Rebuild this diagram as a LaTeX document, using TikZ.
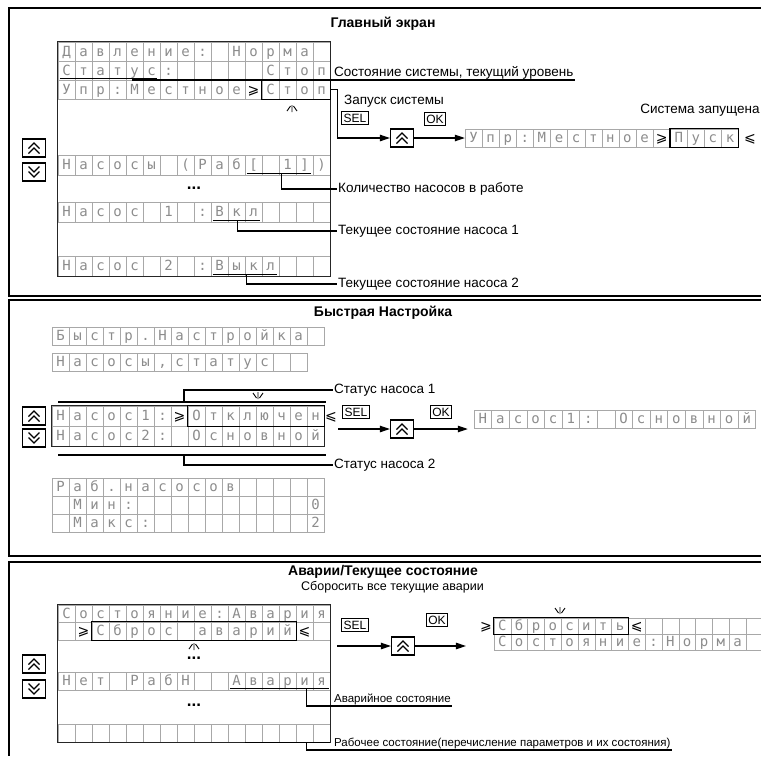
\documentclass[tikz,border=0pt]{standalone}
\usepackage{fontspec}
\setmainfont{Liberation Sans}
\newfontfamily\lcdfont{DejaVu Sans Mono}
\newfontfamily\symfont{DejaVu Sans}
\usepackage{tikz}
\usetikzlibrary{arrows.meta,positioning,fit,calc}
\definecolor{LcdGrid}{HTML}{A8A8A8}
\definecolor{LcdInk}{HTML}{8C8C8C}
\newcommand\lcdge{{\symfont\color{black}⩾}}
\newcommand\lcdle{{\symfont\color{black}⩽}}
\newcommand\lcdrow[6]{%
  \foreach \ch [count=\i] in {#6}{%
    \node[cell, minimum width=#4pt, minimum height=#5pt] (#1-\i) at ({#2+(\i-0.5)*#4},{#3+0.5*#5}) {\ch};}}
\newcommand\upkey[3]{%
  \node[key] (#1) at (#2,#3) {};
  \draw[chev] ([shift={(-5.5,0.5)}]#1.center) -- ([shift={(0,-5)}]#1.center) -- ([shift={(5.5,0.5)}]#1.center)
    ([shift={(-5.5,5.5)}]#1.center) -- ([shift={(0,0)}]#1.center) -- ([shift={(5.5,5.5)}]#1.center);}
\newcommand\downkey[3]{%
  \node[key] (#1) at (#2,#3) {};
  \draw[chev] ([shift={(-5.5,-0.5)}]#1.center) -- ([shift={(0,5)}]#1.center) -- ([shift={(5.5,-0.5)}]#1.center)
    ([shift={(-5.5,-5.5)}]#1.center) -- ([shift={(0,0)}]#1.center) -- ([shift={(5.5,-5.5)}]#1.center);}
\newcommand\blinkup[2]{\draw[blink] (#1-5,#2+6) -- (#1-1.5,#2+1) (#1,#2+7) -- (#1,#2) (#1+5,#2+6) -- (#1+1.5,#2+1);}
\newcommand\blinkdown[2]{\draw[blink] (#1-5,#2-6) -- (#1-1.5,#2-1) (#1,#2-7) -- (#1,#2) (#1+5,#2-6) -- (#1+1.5,#2-1);}

\begin{document}
\begin{tikzpicture}[x=1pt, y=-1pt, font=\fontsize{13.5}{15}\selectfont,
  cell/.style={draw=LcdGrid, line width=0.4pt, inner sep=0pt, text=LcdInk,
               font=\lcdfont\fontsize{14}{14}\selectfont, text height=10pt, text depth=1pt},
  lcdedge/.style={draw=black!85, line width=0.8pt},
  hibox/.style={draw, line width=1.2pt, inner sep=0pt},
  key/.style={draw, line width=1.3pt, minimum width=23pt, minimum height=18pt, inner sep=0pt},
  btn/.style={draw, line width=1.1pt, inner sep=2pt, font=\fontsize{12}{12}\selectfont},
  chev/.style={line width=1.3pt},
  lbl/.style={inner sep=1pt},
  small/.style={font=\fontsize{11.5}{13}\selectfont},
  ttl/.style={font=\bfseries\fontsize{14}{16}\selectfont},
  ar/.style={-{Triangle[length=10pt,width=6.5pt]}, line width=1.1pt},
  lead/.style={line width=1.1pt},
  uline/.style={line width=0.9pt},
  blink/.style={line width=0.9pt},
  dots/.style={font=\bfseries\fontsize{17}{17}\selectfont, inner sep=0pt},
  frame/.style={line width=1.6pt}]
\useasboundingbox (0,0) rectangle (761,756);

\draw[frame] (761,8) -| (9,296) -- (761,296);
\node[ttl] (t1) at (383,24) {Главный экран};
\lcdrow{p1a}{58}{42}{17}{19}{Д,а,в,л,е,н,и,е,:,{},Н,о,р,м,а,{}}
\lcdrow{p1b}{58}{61}{17}{19}{С,т,а,т,у,с,:,{},{},{},{},{},С,т,о,п}
\lcdrow{p1c}{58}{80}{17}{19}{У,п,р,:,М,е,с,т,н,о,е,{\lcdge},С,т,о,п}
\lcdrow{p1d}{58}{155}{17}{20}{Н,а,с,о,с,ы,{},{(},Р,а,б,{[},{},1,{]},{)}}
\lcdrow{p1e}{58}{202}{17}{20}{Н,а,с,о,с,{},1,{},:,В,к,л,{},{},{},{}}
\lcdrow{p1f}{58}{256}{17}{20}{Н,а,с,о,с,{},2,{},:,В,ы,к,л,{},{},{}}
\draw[lcdedge] (p1a-1.north west) rectangle (p1f-16.south east);
\node[hibox, fit=(p1c-13)(p1c-16)] (stop) {};
\blinkup{292}{105}
\draw[uline] ([shift={(2,-2)}]p1b-1.south west) -- ([shift={(-3,-2)}]p1b-6.south east);
\coordinate (stU) at ([shift={(7,-2)}]p1b-5.south west);
\node[lbl, anchor=south west] (stl) at (333,80) {Состояние системы, текущий уровень};
\draw[lead] (stU) |- (stl.south east);
\node[lbl, anchor=west] (zap) at (343,101) {Запуск системы};
\node[btn] (sel1) at (355,118) {SEL};
\upkey{k1}{402}{138}
\node[btn] (ok1) at (435,119) {OK};
\draw[ar] (stop.east) -- ++(7,0) |- (k1.west);
\lcdrow{p1g}{465}{129}{17.1}{18}{У,п,р,:,М,е,с,т,н,о,е,{\lcdge},П,у,с,к}
\node[hibox, fit=(p1g-13)(p1g-16)] (pusk) {};
\node[cell, draw=none] (p1lt) at (750,138) {\lcdle};
\draw[ar] (k1.east) -- (p1g-1.west);
\node[lbl] (run) at (700,110) {Система запущена};
\upkey{k1u}{34}{148}
\downkey{k1d}{34}{172}
\draw[uline] ([shift={(2,-2)}]p1d-12.south west) -- ([shift={(-2,-2)}]p1d-15.south east);
\coordinate (cnU) at ([shift={(3,-2)}]p1d-14.south west);
\node[lbl, anchor=west] (cnl) at (337,189) {Количество насосов в работе};
\draw[lead] (cnU) |- (cnl.west);
\node[dots] (dots1) at (194,188) {...};
\draw[uline] ([shift={(2,-2)}]p1e-10.south west) -- ([shift={(-2,-2)}]p1e-12.south east);
\coordinate (p1U) at ([shift={(10,-2)}]p1e-11.south west);
\node[lbl, anchor=west] (p1l) at (337,231) {Текущее состояние насоса 1};
\draw[lead] (p1U) |- (p1l.west);
\draw[uline] ([shift={(2,-2)}]p1f-10.south west) -- ([shift={(-2,-2)}]p1f-13.south east);
\coordinate (p2U) at ([shift={(2,-2)}]p1f-12.south west);
\node[lbl, anchor=west] (p2l) at (337,284) {Текущее состояние насоса 2};
\draw[lead] (p2U) |- (p2l.west);

\draw[frame] (761,300) -| (9,556) -- (761,556);
\node[ttl] (t2) at (383,313) {Быстрая Настройка};
\lcdrow{p2a}{52}{327}{17}{18}{Б,ы,с,т,р,.,Н,а,с,т,р,о,й,к,а,{}}
\lcdrow{p2b}{52}{353}{17}{18}{Н,а,с,о,с,ы,{,},с,т,а,т,у,с,{},{}}
\lcdrow{p2c}{52}{406}{17}{20}{Н,а,с,о,с,1,:,{\lcdge},О,т,к,л,ю,ч,е,н}
\lcdrow{p2d}{52}{426}{17}{20}{Н,а,с,о,с,2,:,{},О,с,н,о,в,н,о,й}
\draw[lcdedge] (p2c-1.north west) rectangle (p2d-16.south east);
\node[hibox, fit=(p2c-9)(p2c-16)] (otk) {};
\node[cell, draw=none] (p2lt) at (331,416) {\lcdle};
\blinkdown{258}{399}
\coordinate (b1w) at (58,402);
\coordinate (b1e) at (326,402);
\coordinate (b1m) at (184,402);
\draw[lead] (b1w) -- (b1e);
\node[lbl, anchor=west] (s1l) at (333,390) {Статус насоса 1};
\draw[lead] (b1m) |- (s1l.west);
\coordinate (b2w) at (58,455);
\coordinate (b2e) at (326,455);
\coordinate (b2m) at (184,455);
\draw[lead] (b2w) -- (b2e);
\node[lbl, anchor=west] (s2l) at (333,465) {Статус насоса 2};
\draw[lead] (b2m) |- (s2l.west);
\upkey{k2u}{34}{416}
\downkey{k2d}{34}{438}
\node[btn] (sel2) at (356,412) {SEL};
\coordinate (a2) at (338,429);
\upkey{k2}{402}{429}
\node[btn] (ok2) at (441,412) {OK};
\draw[ar] (a2) -- (k2.west);
\lcdrow{p2e}{474}{410}{17.6}{18}{Н,а,с,о,с,1,:,{},О,с,н,о,в,н,о,й}
\draw[ar, shorten >=6pt] (k2.east) -- (k2.east -| p2e-1.west);
\lcdrow{p2f}{52}{478}{17}{18}{Р,а,б,.,н,а,с,о,с,о,в,{},{},{},{},{}}
\lcdrow{p2g}{52}{496}{17}{18}{{},М,и,н,:,{},{},{},{},{},{},{},{},{},{},0}
\lcdrow{p2h}{52}{514}{17}{18}{{},М,а,к,с,:,{},{},{},{},{},{},{},{},{},2}

\draw[frame] (761,562) -| (9,756);
\node[ttl] (t3) at (383,572) {Аварии/Текущее состояние};
\node[lbl, anchor=west, font=\fontsize{12.5}{14}\selectfont] (rst) at (300,587) {Сборосить все текущие аварии};
\lcdrow{p3a}{58}{605}{17}{17}{С,о,с,т,о,я,н,и,е,:,А,в,а,р,и,я}
\lcdrow{p3b}{58}{622}{17}{18}{{},{\lcdge},С,б,р,о,с,{},а,в,а,р,и,й,{\lcdle},{}}
\lcdrow{p3c}{58}{672}{17}{18}{Н,е,т,{},Р,а,б,Н,{},{},А,в,а,р,и,я}
\lcdrow{p3d}{58}{724}{17}{18}{{},{},{},{},{},{},{},{},{},{},{},{},{},{},{},{}}
\draw[lcdedge] (p3a-1.north west) rectangle (p3d-16.south east);
\node[hibox, fit=(p3b-3)(p3b-14)] (sbr) {};
\blinkup{194}{643}
\node[dots] (dots2) at (194,658) {...};
\node[dots] (dots3) at (194,705) {...};
\draw[uline] ([shift={(2,-2)}]p3c-11.south west) -- ([shift={(-1,-2)}]p3c-16.south east);
\coordinate (avU) at ([shift={(11,-2)}]p3c-15.south west);
\node[lbl, small, anchor=south west] (avl) at (333,706) {Аварийное состояние};
\draw[lead] (avU) |- (avl.south east);
\draw[lead] (p3d-12.south west) -- (p3d-16.south east);
\coordinate (rbU) at ([shift={(11,0)}]p3d-15.south west);
\node[lbl, small, anchor=south west] (rbl) at (333,750) {Рабочее состояние(перечисление параметров и их состояния)};
\draw[lead] (rbU) |- (rbl.south east);
\upkey{k3u}{34}{664}
\downkey{k3d}{34}{689}
\node[btn] (sel3) at (355,625) {SEL};
\coordinate (a3) at (337,646);
\upkey{k3}{403}{646}
\node[btn] (ok3) at (437,620) {OK};
\draw[ar] (a3) -- (k3.west);
\node[cell, draw=none] (gt3) at (486,626) {\lcdge};
\draw[ar, shorten >=14pt] (k3.east) -- (k3.east -| gt3.west);
\lcdrow{p3e}{494}{618}{16.8}{16}{С,б,р,о,с,и,т,ь,{\lcdle},{},{},{},{},{},{},{}}
\lcdrow{p3f}{494}{634}{16.8}{16}{С,о,с,т,о,я,н,и,е,:,Н,о,р,м,а,{}}
\node[hibox, fit=(p3e-1)(p3e-8)] (sbrs) {};
\blinkdown{560}{614}
\end{tikzpicture}
\end{document}
